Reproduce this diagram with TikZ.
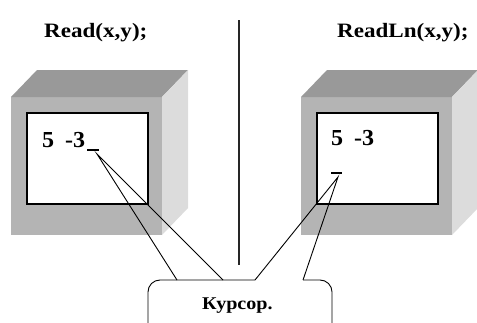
\documentclass[tikz,border=0pt]{standalone}
\usepackage{fontspec}
\setmainfont{Liberation Serif}
\definecolor{facefront}{HTML}{B4B4B4}
\definecolor{facetop}{HTML}{999999}
\definecolor{faceside}{HTML}{DCDCDC}
\begin{document}
\begin{tikzpicture}[x=1bp,y=-1bp,
  thinline/.style={draw=black,line width=0.9bp},
  title/.style={inner sep=0pt,anchor=base west,font=\bfseries\fontsize{20.5}{20.5}\selectfont},
  digits/.style={inner sep=0pt,anchor=base west,font=\bfseries\fontsize{23}{23}\selectfont},
  caption/.style={inner sep=0pt,anchor=base west,font=\bfseries\fontsize{18}{18}\selectfont},
  monitor/.pic={
    % front, top and side faces of the box
    \fill[facefront] (0,0) rectangle (151,138);
    \fill[facetop] (0,0) -- (26,-27) -- (177,-27) -- (151,0) -- cycle;
    \fill[faceside] (151,0) -- (177,-27) -- (177,111) -- (151,138) -- cycle;
    % screen
    \draw[fill=white,line width=1.3bp] (16,16) rectangle (137,107);
  }]
\useasboundingbox (0,0) rectangle (477,322);
\clip (0,0) rectangle (477,322);

% headings
\node[title] (hleft) at (44,37) {\scalebox{1.13}[1]{Read(x,y);}};
\node[title] (hright) at (337,37) {\scalebox{1.13}[1]{ReadLn(x,y);}};

% divider
\coordinate (dtop) at (239,20);
\coordinate (dbot) at (239,265);
\draw[line width=1.3bp,black!85] (dtop) -- (dbot);

% the two boxes
\pic at (11,97) {monitor};
\pic at (301,97) {monitor};

% screen contents
\node[digits] (valsL) at (42,147) {\scalebox{1.05}[1]{5\hspace{0.45em}-3}};
\node[digits] (valsR) at (331,145) {\scalebox{1.05}[1]{5\hspace{0.45em}-3}};

% cursors
\coordinate (curLa) at (87,150);
\coordinate (curLb) at (99,150);
\draw[line width=1.3bp] (curLa) -- (curLb);
\coordinate (curRa) at (331,173);
\coordinate (curRb) at (342,173);
\draw[line width=1.3bp] (curRa) -- (curRb);

% callout bubble
\coordinate (tipL) at (97,154);
\coordinate (tipR) at (338,177);
\coordinate (wL1) at (177,280);
\coordinate (wL2) at (223,280);
\coordinate (wR1) at (255,280);
\coordinate (wR2) at (303,280);
\draw[thinline,rounded corners=12] (148,330) -- (148,280) -- (wR1);
\draw[thinline,rounded corners=12] (wR2) -- (332,280) -- (332,330);
\draw[thinline] (wL1) -- (tipL) -- (wL2);
\draw[thinline] (wR1) -- (tipR) -- (wR2);
\node[caption] (cursorlabel) at (202,309) {\scalebox{1.12}[1]{Курсор.}};
\end{tikzpicture}
\end{document}
